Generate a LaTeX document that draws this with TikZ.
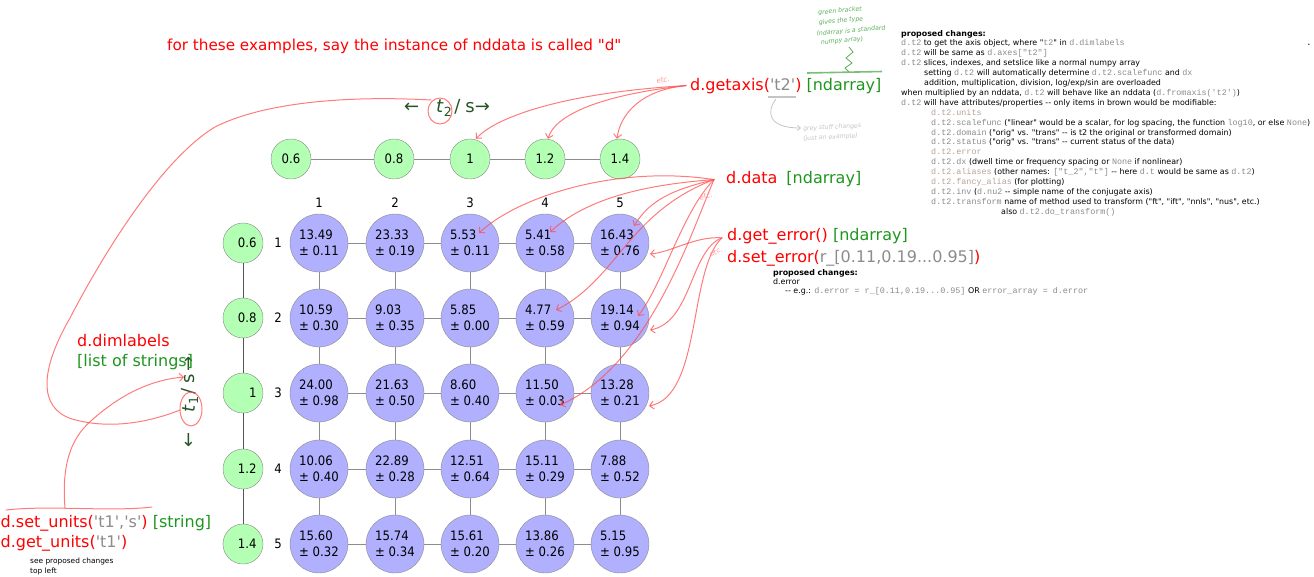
\documentclass[tikz,border=0pt]{standalone}
\usepackage{fontspec}
\setmainfont{DejaVu Sans}
\newfontfamily\condf{DejaVu Sans Condensed}
\setmonofont{Liberation Mono}
\usetikzlibrary{arrows.meta}
\definecolor{tred}{HTML}{FF0000}
\definecolor{tgreen}{HTML}{1E961E}
\definecolor{axgreen}{HTML}{245524}
\definecolor{tgrey}{HTML}{8C8C8C}
\definecolor{cgrey}{HTML}{8A8A8A}
\definecolor{cbrown}{HTML}{B8A096}
\definecolor{ngreen}{HTML}{B3FFB3}
\definecolor{nblue}{HTML}{B0B0FF}
\definecolor{nodeedge}{HTML}{8A8A8A}
\definecolor{edgegray}{HTML}{8C8C8C}
\definecolor{edgedark}{HTML}{555555}
\definecolor{annotred}{HTML}{FF4F4F}
\definecolor{notegreen}{HTML}{5AAE5A}
\definecolor{notegrey}{HTML}{C4C4C4}
\newcommand\sq{\textquotesingle}
\newcommand\dq{\textquotedbl}
\newcommand\cg[1]{{\ttfamily\fontsize{8.4}{9}\selectfont\color{cgrey}#1}}
\newcommand\cb[1]{{\ttfamily\fontsize{8.4}{9}\selectfont\color{cbrown}#1}}
\begin{document}
\begin{tikzpicture}[x=1pt,y=-1pt,
  gnode/.style={circle, draw=nodeedge, fill=ngreen, minimum size=40pt, inner sep=0pt, font=\condf\fontsize{13}{15}\selectfont},
  gnodeL/.style={gnode, text width=27pt, align=right},
  bnode/.style={circle, draw=nodeedge, fill=nblue, minimum size=58pt, inner sep=0pt, align=left, font=\condf\fontsize{13}{16}\selectfont},
  edge/.style={draw=edgegray, line width=1pt},
  edgeL/.style={draw=edgedark, line width=1pt},
  idx/.style={inner sep=0pt, font=\condf\fontsize{13}{15}\selectfont},
  lab/.style={anchor=base west, inner sep=0pt, font=\fontsize{16}{19}\selectfont},
  axlab/.style={inner sep=0pt, text=axgreen, font=\fontsize{18}{20}\selectfont},
  small/.style={anchor=base west, inner sep=0pt, font=\fontsize{7.9}{9}\selectfont},
  note/.style={inner sep=0pt, font=\itshape\fontsize{6.2}{7}\selectfont},
  etc/.style={inner sep=0pt, text=annotred!60, font=\itshape\fontsize{7}{8}\selectfont},
  annot/.style={draw=annotred, line width=1pt, opacity=0.75, line cap=round, line join=round},
  annotarrow/.style={annot, -{Straight Barb[length=4pt,width=8pt]}},
]
\path[use as bounding box] (0,0) rectangle (1314,576);

% ---------- top green row ----------
\foreach \x/\v [count=\i] in {291/0.6,394/0.8,470/1,545/1.2,620/1.4}
  \node[gnode] (g\i) at (\x,159) {\v};
\foreach \i [count=\j from 2] in {1,...,4}
  \draw[edge] (g\i) -- (g\j);

% ---------- left green column ----------
\foreach \y/\v [count=\i] in {243/0.6,318/0.8,393/1,469/1.2,544/1.4}
  \node[gnodeL] (l\i) at (243,\y) {\v};
\foreach \i [count=\j from 2] in {1,...,4}
  \draw[edgeL] (l\i) -- (l\j);

% ---------- indices ----------
\foreach \x [count=\i] in {319,395,470,545,620}
  \node[idx] (c\i) at (\x,203) {\i};
\foreach \y [count=\i] in {243,318,393,469,544}
  \node[idx] (r\i) at (278,\y) {\i};

% ---------- blue grid ----------
\foreach \y [count=\r] in {243,318,393,469,544}{
  \foreach \x [count=\c] in {319,395,470,545,620}{
    \coordinate (p-\r-\c) at (\x,\y);
  }
}
\foreach \r/\row in {
  1/{13.49/0.11,23.33/0.19,5.53/0.11,5.41/0.58,16.43/0.76},
  2/{10.59/0.30,9.03/0.35,5.85/0.00,4.77/0.59,19.14/0.94},
  3/{24.00/0.98,21.63/0.50,8.60/0.40,11.50/0.03,13.28/0.21},
  4/{10.06/0.40,22.89/0.28,12.51/0.64,15.11/0.29,7.88/0.52},
  5/{15.60/0.32,15.74/0.34,15.61/0.20,13.86/0.26,5.15/0.95}}{
  \foreach \v/\e [count=\c] in \row
    \node[bnode] (b-\r-\c) at (p-\r-\c) {\v\\± \e};
}
\foreach \r in {1,...,5}{
  \foreach \c [count=\n from 2] in {1,...,4}{
    \draw[edge] (b-\r-\c) -- (b-\r-\n);
    \draw[edge] (b-\c-\r) -- (b-\n-\r);
  }
}

% ---------- axis labels ----------
\node[axlab] (ax2) at (447,108) {←\hspace{17pt}\textit{t}\textsubscript{2}\hspace{2pt}/\hspace{5pt}s→};
\node[axlab, rotate=90] (ax1) at (190,402) {←\hspace{20pt}\textit{t}\textsubscript{1}\hspace{2pt}/\hspace{5pt}s\hspace{2pt}→};

% ---------- labels ----------
\node[lab, font=\fontsize{15.2}{18}\selectfont, text=tred] (title) at (167,50) {for these examples, say the instance of nddata is called \dq d\dq};
\node[lab] (getaxis) at (690,90) {\color{tred}d.getaxis(\color{tgrey}\sq t2\sq\color{tred}) \color{tgreen}[ndarray]};
\node[lab] (data) at (726,183) {\color{tred}d.data\hspace{9pt}\color{tgreen}[ndarray]};
\node[lab] (geterr) at (727,240) {\color{tred}d.get\_error() \color{tgreen}[ndarray]};
\node[lab] (seterr) at (727,262) {\color{tred}d.set\_error(\color{tgrey}r\_[0.11,0.19...0.95]\color{tred})};
\node[lab, text=tred] (dim) at (77,346) {d.dimlabels};
\node[lab, text=tgreen] (dimt) at (77,366) {[list of strings]};
\node[lab] (setu) at (0.5,527) {\color{tred}d.set\_units(\color{tgrey}\sq t1\sq,\sq s\sq\color{tred}) \color{tgreen}[string]};
\node[lab, text=tred] (getu) at (0.5,547) {d.get\_units(\color{tgrey}\sq t1\sq\color{tred})};
\node[small, font=\fontsize{7.4}{9}\selectfont] (see1) at (30,563) {see proposed changes};
\node[small, font=\fontsize{7.4}{9}\selectfont] (see2) at (30,573) {top left};

% ---------- middle proposed changes ----------
\node[small] (m1) at (773,275) {\textbf{proposed changes:}};
\node[small] (m2) at (773,284) {d.error};
\node[small] (m3) at (785,293) {-{}- e.g.: \cg{d.error = r\_[0.11,0.19...0.95]} OR \cg{error\_array = d.error}};

% ---------- top-right proposed changes ----------
\node[small] (q1) at (901,36.0) {\textbf{proposed changes:}};
\node[small] (q2) at (901,45.9) {\cg{d.t2} to get the axis object, where \dq\cg{t2}\dq\ in \cg{d.dimlabels}};
\node[small] (q3) at (901,55.8) {\cg{d.t2} will be same as \cg{d.axes["t2"]}};
\node[small] (q4) at (901,65.7) {\cg{d.t2} slices, indexes, and setslice like a normal numpy array};
\node[small] (q5) at (924,75.6) {setting \cg{d.t2} will automatically determine \cg{d.t2.scalefunc} and \cg{dx}};
\node[small] (q6) at (924,85.5) {addition, multiplication, division, log/exp/sin are overloaded};
\node[small] (q7) at (901,95.4) {when multiplied by an nddata, \cg{d.t2} will behave like an nddata (\cg{d.fromaxis(\sq t2\sq)})};
\node[small] (q8) at (901,105.3) {\cg{d.t2} will have attributes/properties -{}- only items in brown would be modifiable:};
\node[small] (q9) at (931,115.2) {\cb{d.t2.units}};
\node[small] (q10) at (931,125.1) {\cg{d.t2.scalefunc} (\dq linear\dq\ would be a scalar, for log spacing, the function \cg{log10}, or else \cg{None})};
\node[small] (q11) at (931,135.0) {\cg{d.t2.domain} (\dq orig\dq\ vs. \dq trans\dq\ -{}- is t2 the original or transformed domain)};
\node[small] (q12) at (931,144.9) {\cg{d.t2.status} (\dq orig\dq\ vs. \dq trans\dq\ -{}- current status of the data)};
\node[small] (q13) at (931,154.8) {\cb{d.t2.error}};
\node[small] (q14) at (931,164.7) {\cg{d.t2.dx} (dwell time or frequency spacing or \cg{None} if nonlinear)};
\node[small] (q15) at (931,174.6) {\cb{d.t2.aliases} (other names: \cg{["t\_2","t"]} -{}- here \cg{d.t} would be same as \cg{d.t2})};
\node[small] (q16) at (931,184.5) {\cb{d.t2.fancy\_alias} (for plotting)};
\node[small] (q17) at (931,194.4) {\cg{d.t2.inv} (\cg{d.nu2} -{}- simple name of the conjugate axis)};
\node[small] (q18) at (931,204.3) {\cg{d.t2.transform} name of method used to transform (\dq ft\dq, \dq ift\dq, \dq nnls\dq, \dq nus\dq, etc.)};
\node[small] (q19) at (1001,214.2) {also \cg{d.t2.do\_transform()}};
\node[inner sep=0pt, font=\fontsize{10}{10}\selectfont] (dot) at (1309,45) {.};

% ---------- green handwritten note ----------
\begin{scope}[text=notegreen]
\node[note, rotate=5] (n1) at (840,11) {green bracket};
\node[note, rotate=5] (n2) at (841,21) {gives the type};
\node[note, rotate=5] (n3) at (851,31) {(ndarray is a standard};
\node[note, rotate=5] (n4) at (842,41) {numpy array)};
\end{scope}
\draw[notegreen, line width=0.8pt] (849,47) -- (853,52) -- (846,58) -- (852,63) -- (845,68) -- (849,72);
\draw[notegreen, line width=1.6pt, opacity=0.8] (807,73) -- (882,71.5);

% ---------- grey note ----------
\draw[notegrey, line width=1.4pt] (768,97) -- (796,97);
\draw[notegrey, line width=0.8pt, -{Straight Barb[length=3pt,width=5pt]}] (776,99) .. controls (766,112) and (768,128) .. (801,128);
\node[note, text=notegrey, anchor=west, rotate=3] (gn1) at (803,129) {grey stuff changes};
\node[note, text=notegrey, anchor=west, rotate=3] (gn2) at (803,139) {(just an example)};

% ---------- red annotations ----------
\draw[annot] (440,111) ellipse [x radius=12, y radius=13];
\draw[annot] (191,409) ellipse [x radius=11, y radius=17];
% dimlabels loop
\draw[annot] (431,100) .. controls (340,95) and (260,104) .. (215,127)
  .. controls (160,160) and (100,260) .. (70,318)
  .. controls (40,370) and (38,408) .. (72,419)
  .. controls (110,430) and (150,422) .. (180,410);
% set_units
\draw[annot] (6,510) .. controls (50,505) and (110,512) .. (152,507);
\draw[annotarrow] (65,508) .. controls (62,470) and (68,440) .. (92,420)
  .. controls (120,395) and (150,380) .. (184,377);
% getaxis
\coordinate (ga) at ([xshift=-4pt]getaxis.west);
\draw[annotarrow] (ga) .. controls (560,93) and (495,118) .. ([xshift=6pt]g3.north);
\draw[annotarrow] (ga) .. controls (600,95) and (555,115) .. ([xshift=3pt]g4.north);
\draw[annotarrow] (ga) .. controls (640,90) and (620,115) .. ([xshift=-3pt]g5.north);
\node[etc, rotate=12] (etc1) at (663,80) {etc.};
% data
\coordinate (da) at ([xshift=-12pt,yshift=-1pt]data.west);
\draw[annotarrow] (da) .. controls (620,165) and (520,195) .. (479,233);
\draw[annotarrow] (da) .. controls (640,185) and (585,200) .. (550,232);
\draw[annotarrow] (da) .. controls (672,190) and (650,200) .. (634,226);
\draw[annotarrow] (da) .. controls (660,200) and (635,235) .. (612,262)
  .. controls (592,286) and (576,300) .. (556,310);
\draw[annotarrow] (da) .. controls (682,212) and (664,282) .. (638,316);
\draw[annotarrow] (da) .. controls (692,230) and (650,365) .. (560,405);
\node[etc, rotate=15] (etc2) at (706,196) {etc.};
% errors
\coordinate (ea) at ([xshift=-5pt,yshift=-2pt]geterr.west);
\draw[annotarrow] (ea) .. controls (695,236) and (672,252) .. (650,254);
\draw[annotarrow] (ea) .. controls (690,250) and (692,322) .. (650,330);
\draw[annotarrow] (ea) .. controls (688,270) and (702,396) .. (649,406);
\node[etc, rotate=25] (etc3) at (716,252) {etc.};
\end{tikzpicture}
\end{document}
